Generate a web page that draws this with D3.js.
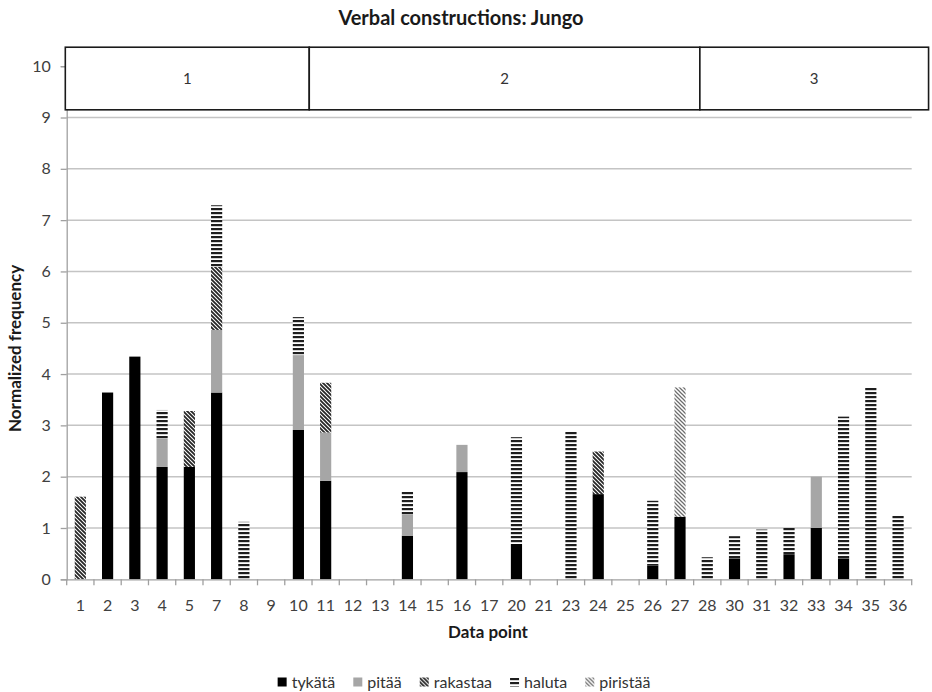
<!DOCTYPE html>
<html>
<head>
<meta charset="utf-8">
<script src="https://cdn.jsdelivr.net/npm/d3@7"></script>
<style>
  body { margin: 0; background: #fff; }
  svg { font-family: Lato, "Open Sans", sans-serif; }
</style>
</head>
<body>
<div id="chart"></div>
<script>
// Data points on the x axis (not consecutive)
const categories = ["1","2","3","4","5","7","8","9","10","11","12","13","14","15","16","17",
  "20","21","23","24","25","26","27","28","30","31","32","33","34","35","36"];

// Stacked series, one value per category
const tykata   = [0,3.64,4.34,2.19,2.19,3.64,0,0,2.91,1.92,0,0,0.85,0,2.09,0,0.69,0,0,1.66,0,0.27,1.22,0,0.41,0,0.49,1.0,0.41,0,0];
const pitaa    = [0,0,0,0.56,0,1.22,0,0,1.46,0.94,0,0,0.42,0,0.53,0,0,0,0,0,0,0,0,0,0,0,0,1.0,0,0,0];
const rakastaa = [1.61,0,0,0,1.09,1.23,0,0,0,0.97,0,0,0,0,0,0,0,0,0,0.83,0,0,0,0,0,0,0,0,0,0,0];
const haluta   = [0,0,0,0.55,0,1.2,1.12,0,0.74,0,0,0,0.45,0,0,0,2.08,0,2.89,0,0,1.26,0,0.43,0.43,0.97,0.51,0,2.76,3.74,1.25];
const piristaa = [0,0,0,0,0,0,0,0,0,0,0,0,0,0,0,0,0,0,0,0,0,0,2.52,0,0,0,0,0,0,0,0];

const seriesNames = ["tykätä", "pitää", "rakastaa", "haluta", "piristää"];
const seriesKeys = ["tykata", "pitaa", "rakastaa", "haluta", "piristaa"];
const seriesValues = [tykata, pitaa, rakastaa, haluta, piristaa];

const yTicks = [0,1,2,3,4,5,6,7,8,9,10];

// Period boxes at the top: labels and edges in band-index units
const periodLabels = ["1", "2", "3"];
const periodEdges = [0, 8.95, 23.28, 31.67];

const width = 932, height = 692;
const plot = { left: 66.7, right: 911.7, top: 66.2, bottom: 579.3 };

const svg = d3.select("#chart").append("svg")
  .attr("width", width)
  .attr("height", height);

// Fill patterns
const defs = svg.append("defs");
const fills = {
  tykata: "#000",
  pitaa: "#a6a6a6",
  rakastaa: "url(#pat-rakastaa)",
  haluta: "url(#pat-haluta)",
  piristaa: "url(#pat-piristaa)"
};

const pHaluta = defs.append("pattern").attr("id", "pat-haluta")
  .attr("patternUnits", "userSpaceOnUse").attr("width", 4).attr("height", 4);
pHaluta.append("rect").attr("width", 4).attr("height", 4).attr("fill", "#fff");
pHaluta.append("rect").attr("width", 4).attr("height", 2.2).attr("fill", "#1e1e1e");

function diagPattern(id, color, sw) {
  const p = defs.append("pattern").attr("id", id)
    .attr("patternUnits", "userSpaceOnUse").attr("width", 4).attr("height", 4);
  p.append("rect").attr("width", 4).attr("height", 4).attr("fill", "#fff");
  p.append("path")
    .attr("d", "M-1,-1L5,5M-1,3L1,5M3,-1L5,1")
    .attr("stroke", color)
    .attr("stroke-width", sw);
}
diagPattern("pat-rakastaa", "#262626", 1.8);
diagPattern("pat-piristaa", "#6c6c6c", 1.25);

// Scales
const x = d3.scaleBand()
  .domain(categories)
  .range([plot.left, plot.right])
  .paddingInner(0.59)
  .paddingOuter(0.295);

const y = d3.scaleLinear()
  .domain([0, 10])
  .range([plot.bottom, plot.top]);

const xIdx = d3.scaleLinear()
  .domain([0, categories.length])
  .range([plot.left, plot.right]);

// Gridlines
svg.append("g")
  .selectAll("line")
  .data(yTicks.filter(d => d > 0))
  .enter()
  .append("line")
  .attr("x1", plot.left)
  .attr("x2", plot.right)
  .attr("y1", d => y(d))
  .attr("y2", d => y(d))
  .attr("stroke", "#c4c4c4")
  .attr("stroke-width", 1.5);

// Stacked bars
const rows = categories.map((c, i) => {
  const r = { cat: c };
  seriesKeys.forEach((k, j) => { r[k] = seriesValues[j][i]; });
  return r;
});
const stacked = d3.stack().keys(seriesKeys)(rows);

svg.append("g")
  .selectAll("g")
  .data(stacked)
  .enter()
  .append("g")
  .attr("fill", d => fills[d.key])
  .selectAll("rect")
  .data(d => d.filter(s => s[1] - s[0] > 0))
  .enter()
  .append("rect")
  .attr("x", d => x(d.data.cat))
  .attr("width", x.bandwidth())
  .attr("y", d => y(d[1]))
  .attr("height", d => y(d[0]) - y(d[1]));

// Y axis
const yAxis = d3.axisLeft(y)
  .tickValues(yTicks)
  .tickSize(6)
  .tickPadding(10)
  .tickFormat(d3.format("d"));
const gy = svg.append("g")
  .attr("transform", `translate(${plot.left},0)`)
  .call(yAxis);
gy.select(".domain").attr("stroke", "#a0a0a0").attr("stroke-width", 1.3);
gy.selectAll(".tick line").attr("stroke", "#a0a0a0").attr("stroke-width", 1.3);
gy.selectAll(".tick text")
  .attr("font-size", "16px")
  .attr("fill", "#404040")
  .attr("font-family", "Lato, sans-serif");

// X axis: labels at band centres, tick marks at band boundaries
const xAxis = d3.axisBottom(x).tickSize(0).tickPadding(20);
const gx = svg.append("g")
  .attr("transform", `translate(0,${plot.bottom})`)
  .call(xAxis);
gx.select(".domain").attr("stroke", "#a0a0a0").attr("stroke-width", 1.3);
gx.selectAll(".tick text")
  .attr("font-size", "16px")
  .attr("fill", "#404040")
  .attr("font-family", "Lato, sans-serif");
gx.selectAll("line.sep")
  .data(d3.range(categories.length + 1))
  .enter()
  .append("line")
  .attr("class", "sep")
  .attr("x1", d => xIdx(d))
  .attr("x2", d => xIdx(d))
  .attr("y1", 0)
  .attr("y2", 6)
  .attr("stroke", "#a0a0a0")
  .attr("stroke-width", 1.3);

// Period boxes
const boxTop = y(10.37), boxBottom = y(9.15);
const periods = periodLabels.map((p, i) => ({ label: p, x0: periodEdges[i], x1: periodEdges[i + 1] }));
const gBox = svg.append("g");
gBox.selectAll("rect")
  .data(periods)
  .enter()
  .append("rect")
  .attr("x", d => xIdx(d.x0) - 1.4)
  .attr("width", d => xIdx(d.x1) - xIdx(d.x0))
  .attr("y", boxTop)
  .attr("height", boxBottom - boxTop)
  .attr("fill", "#fff")
  .attr("stroke", "#1a1a1a")
  .attr("stroke-width", 1.6);
gBox.selectAll("text")
  .data(periods)
  .enter()
  .append("text")
  .attr("x", d => (xIdx(d.x0) + xIdx(d.x1)) / 2 - 1.4)
  .attr("y", (boxTop + boxBottom) / 2)
  .attr("dy", "0.35em")
  .attr("text-anchor", "middle")
  .attr("font-size", "15px")
  .attr("fill", "#333")
  .text(d => d.label);

// Title and axis titles
svg.append("text")
  .attr("x", 461)
  .attr("y", 25)
  .attr("text-anchor", "middle")
  .attr("font-size", "20px")
  .attr("font-weight", "bold")
  .attr("fill", "#1a1a1a")
  .text("Verbal constructions: Jungo");

svg.append("text")
  .attr("transform", `translate(21,${(plot.bottom + y(9)) / 2}) rotate(-90)`)
  .attr("text-anchor", "middle")
  .attr("font-size", "17px")
  .attr("font-weight", "bold")
  .attr("fill", "#1a1a1a")
  .text("Normalized frequency");

svg.append("text")
  .attr("x", 488)
  .attr("y", 638)
  .attr("text-anchor", "middle")
  .attr("font-size", "17px")
  .attr("font-weight", "bold")
  .attr("fill", "#1a1a1a")
  .text("Data point");

// Legend
const legend = svg.append("g");
let lx = 0;
seriesNames.forEach((name, i) => {
  const item = legend.append("g").attr("transform", `translate(${lx},0)`);
  item.append("rect")
    .attr("x", 0).attr("y", -4.5)
    .attr("width", 9).attr("height", 9)
    .attr("fill", fills[seriesKeys[i]]);
  const t = item.append("text")
    .attr("x", 14)
    .attr("dy", "0.35em")
    .attr("font-size", "16px")
    .attr("fill", "#333")
    .text(name);
  lx += 14 + t.node().getComputedTextLength() + 18;
});
const legendW = lx - 18;
legend.attr("transform", `translate(${464 - legendW / 2},682)`);
</script>
</body>
</html>
